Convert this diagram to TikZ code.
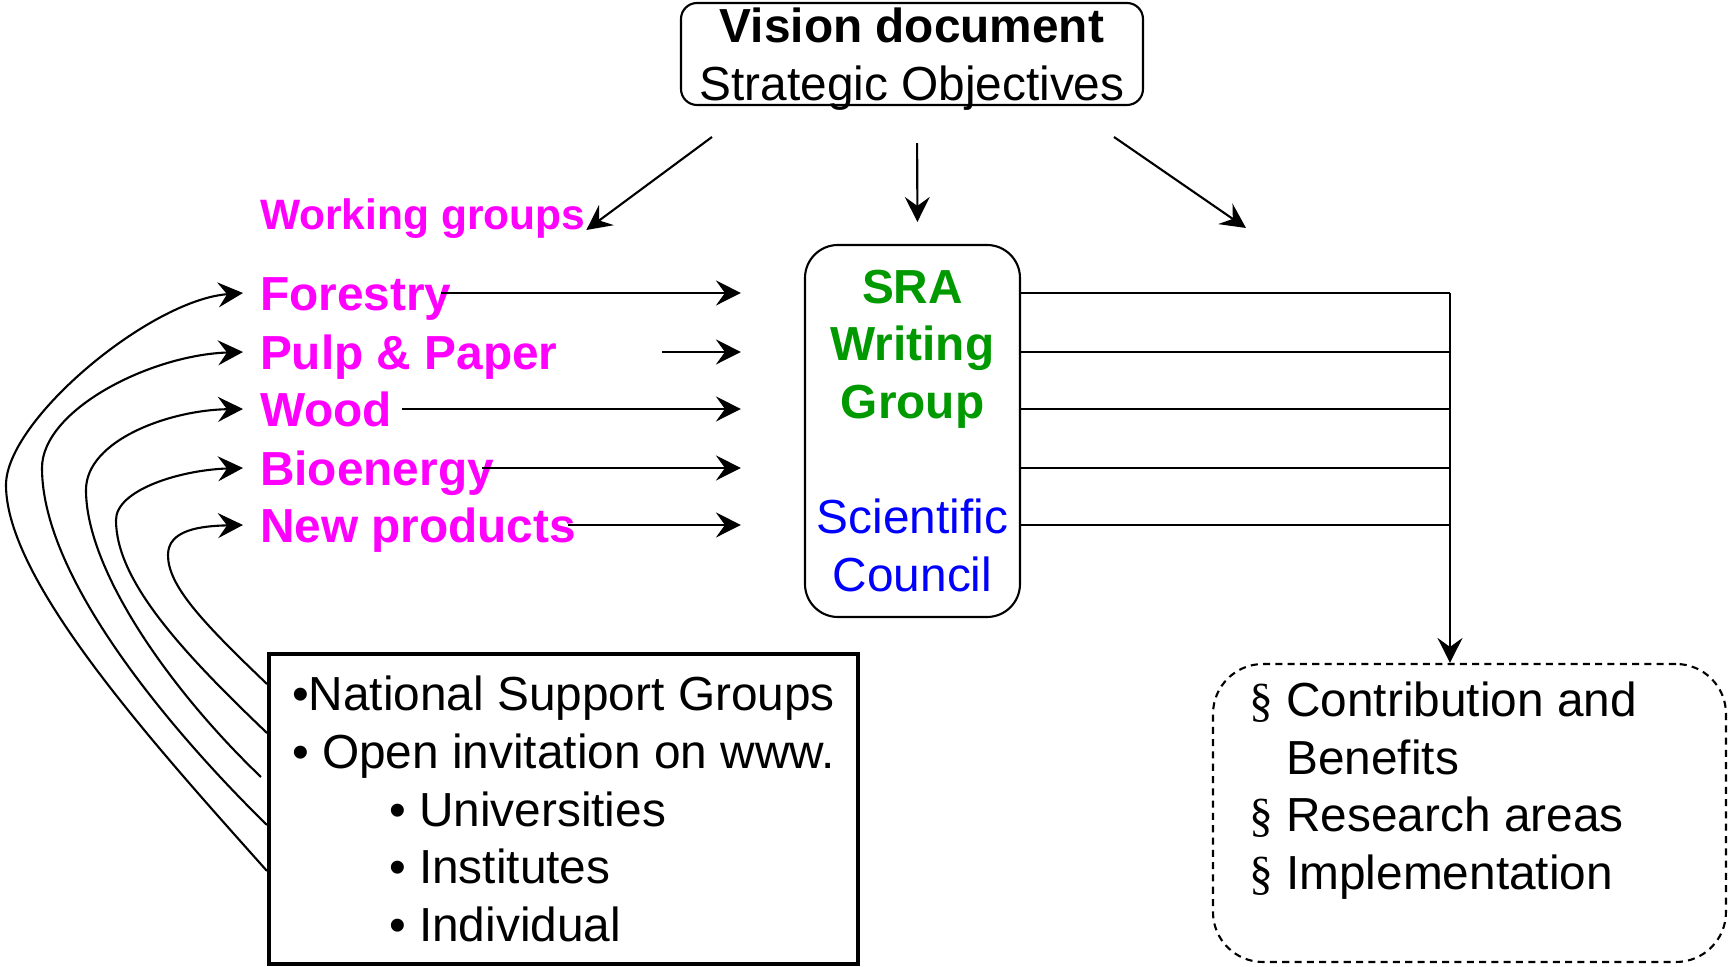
\documentclass[tikz,border=0pt]{standalone}
\usepackage{fontspec}
\setmainfont{Liberation Sans}
\newfontfamily\secfont{Liberation Serif}
\usepackage{tikz}
\usetikzlibrary{arrows.meta}
\definecolor{wgmagenta}{RGB}{255,0,255}
\definecolor{sragreen}{RGB}{0,153,0}
\definecolor{scblue}{RGB}{0,0,255}
\newcommand{\mainsize}{\fontsize{13.6}{16.4}\selectfont}
\newcommand{\secsign}{{\secfont\S}}
\tikzset{> = {Stealth[length=2.5mm,width=2.5mm,inset=0.9mm]}, every picture/.style={line width=0.6pt}}

\begin{document}
\begin{tikzpicture}[x=0.1mm,y=-0.1mm]
\useasboundingbox (0,0) rectangle (1729,967);

\node[draw,rounded corners=1.6mm,minimum width=46.2mm,minimum height=10.2mm,align=center,font=\mainsize,inner sep=0pt] (vision) at (912,54)
  {\textbf{Vision document}\\\raisebox{0pt}[\height][0pt]{Strategic Objectives}};
\node[draw,rounded corners=3.3mm,minimum width=21.5mm,minimum height=37.2mm,align=center,font=\mainsize,inner sep=0pt] (sra) at (912.5,431)
  {\textcolor{sragreen}{\bfseries SRA}\\\textcolor{sragreen}{\bfseries Writing}\\\textcolor{sragreen}{\bfseries Group}\\[16.4pt]\textcolor{scblue}{Scientific}\\\textcolor{scblue}{Council}};
\node[draw,line width=1.3pt,minimum width=58.9mm,minimum height=31mm,align=left,font=\mainsize,inner sep=0pt] (support) at (563.5,809)
  {\textbullet National Support Groups\\\textbullet{} Open invitation on www.\\\hspace*{27.6pt}\textbullet{} Universities\\\hspace*{27.6pt}\textbullet{} Institutes\\\hspace*{27.6pt}\textbullet{} Individual};
\node[draw,dash pattern=on 2pt off 1.5pt,rounded corners=5mm,minimum width=51.3mm,minimum height=29.8mm] (outcome) at (1469.5,813) {};
\node[anchor=north west,align=left,inner sep=0pt,font=\mainsize] (outtext) at (1248,681)
  {\secsign\ Contribution and\\\hphantom{\secsign\ }Benefits\\\secsign\ Research areas\\\secsign\ Implementation};

% working groups
\node[anchor=base west,inner sep=0pt,font=\fontsize{12.1}{14.5}\selectfont\bfseries,text=wgmagenta] (wg) at (259,230) {Working groups};
\begin{scope}[every node/.style={anchor=west,font=\mainsize\bfseries,text=wgmagenta,text height=9.74pt,text depth=0pt,inner xsep=1.6mm,inner ysep=0pt}]
\node (fo) at (243,293) {Forestry};
\node (pp) at (243,352) {Pulp \& Paper};
\node (wo) at (243,409) {Wood};
\node (bi) at (243,468) {Bioenergy};
\node (np) at (243,525) {New products};
\end{scope}

\coordinate (vl) at (712,137);
\coordinate (vr) at (1114,137);
\coordinate (vre) at (1246,228);
\coordinate (fo-a) at (441,293);
\coordinate (pp-a) at (662,352);
\coordinate (wo-a) at (402,409);
\coordinate (bi-a) at (482,468);
\coordinate (np-a) at (568,525);
\coordinate (bus) at (1450,293);
\coordinate (s1) at (267,871);
\coordinate (s2) at (267,825);
\coordinate (s3) at (261,777);
\coordinate (s4) at (267,733);
\coordinate (s5) at (267,684);

\begin{scope}[every edge/.style={draw}]
    \path [->] (vl) edge (wg.base east);
    \path [->] ([xshift=0.5mm]vision.south) edge[shorten <=3.7mm,shorten >=2.2mm] ([xshift=0.5mm]sra.north);
    \path [->] (vr) edge (vre);
    \path [->,shorten >=6.3mm] (fo-a) edge (fo-a -| sra.west);
    \path [->,shorten >=6.3mm] (pp-a) edge (pp-a -| sra.west);
    \path [->,shorten >=6.3mm] (wo-a) edge (wo-a -| sra.west);
    \path [->,shorten >=6.3mm] (bi-a) edge (bi-a -| sra.west);
    \path [->,shorten >=6.3mm] (np-a) edge (np-a -| sra.west);
    \path (sra.east |- fo-a) edge (bus |- fo-a);
    \path (sra.east |- pp-a) edge (bus |- pp-a);
    \path (sra.east |- wo-a) edge (bus |- wo-a);
    \path (sra.east |- bi-a) edge (bus |- bi-a);
    \path (sra.east |- np-a) edge (bus |- np-a);
    \path [->] (bus) edge (bus |- outcome.north);
\end{scope}

% feedback from the support groups
\draw[->] (s1) .. controls (150,740) and (6,580) .. (6,485) .. controls (6,420) and (150,300) .. (fo.west);
\draw[->] (s2) .. controls (175,735) and (42,580) .. (42,468) .. controls (42,410) and (150,355) .. (pp.west);
\draw[->] (s3) .. controls (170,690) and (86,570) .. (86,490) .. controls (86,440) and (170,410) .. (wo.west);
\draw[->] (s4) .. controls (180,650) and (116,580) .. (116,520) .. controls (116,490) and (180,470) .. (bi.west);
\draw[->] (s5) .. controls (200,620) and (168,585) .. (168,555) .. controls (168,530) and (200,526) .. (np.west);
\end{tikzpicture}
\end{document}
